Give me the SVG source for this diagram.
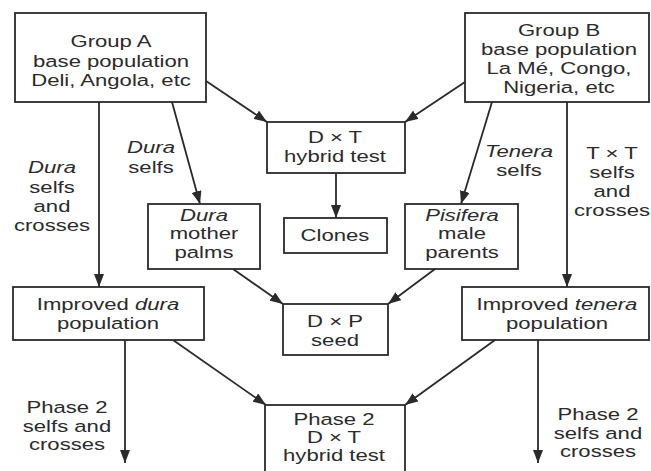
<svg xmlns="http://www.w3.org/2000/svg" width="651" height="471" viewBox="0 0 651 471">
  <style>
    .box { fill: #ffffff; stroke: #2a2a2a; stroke-width: 1.8; }
    .edge { fill: none; stroke: #2a2a2a; stroke-width: 1.8; marker-end: url(#arrow); }
    text { font-family: "Liberation Sans", Arial, Helvetica, sans-serif; font-size: 17px; fill: #2b2b2b; text-anchor: middle; }
    .it { font-style: italic; }
  </style>
  <defs>
    <marker id="arrow" markerUnits="userSpaceOnUse" markerWidth="14" markerHeight="10" refX="13" refY="5" orient="auto">
      <path d="M0,0 L13,5 L0,10 z" fill="#2a2a2a"/>
    </marker>
  </defs>
  <rect width="651" height="471" fill="#ffffff"/>

  <!-- connectors -->
  <g id="connectors">
    <line class="edge" x1="99" y1="102" x2="99" y2="287"/>
    <line class="edge" x1="172" y1="102" x2="200" y2="204"/>
    <line class="edge" x1="206" y1="81" x2="267" y2="122"/>
    <line class="edge" x1="465" y1="82" x2="405" y2="122"/>
    <line class="edge" x1="492" y1="102" x2="461" y2="204"/>
    <line class="edge" x1="567" y1="102" x2="567" y2="287"/>
    <line class="edge" x1="336" y1="173" x2="336" y2="218"/>
    <line class="edge" x1="233" y1="269" x2="283" y2="304"/>
    <line class="edge" x1="435" y1="269" x2="388" y2="304"/>
    <line class="edge" x1="125" y1="340" x2="125" y2="463"/>
    <line class="edge" x1="173" y1="340" x2="266" y2="405"/>
    <line class="edge" x1="538" y1="340" x2="538" y2="463"/>
    <line class="edge" x1="495" y1="340" x2="405" y2="405"/>
  </g>

  <!-- edge labels -->
  <g id="labels">
    <text transform="translate(52,0) scale(1.3,1)"><tspan class="it" x="0" y="173">Dura</tspan><tspan x="0" y="193">selfs</tspan><tspan x="0" y="212">and</tspan><tspan x="0" y="231">crosses</tspan></text>
    <text transform="translate(151,0) scale(1.3,1)"><tspan class="it" x="0" y="153">Dura</tspan><tspan x="0" y="173">selfs</tspan></text>
    <text transform="translate(519,0) scale(1.3,1)"><tspan class="it" x="0" y="157">Tenera</tspan><tspan x="0" y="176">selfs</tspan></text>
    <text transform="translate(612,0) scale(1.3,1)"><tspan x="0" y="159">T × T</tspan><tspan x="0" y="178">selfs</tspan><tspan x="0" y="197">and</tspan><tspan x="0" y="216">crosses</tspan></text>
    <text transform="translate(67,0) scale(1.3,1)"><tspan x="0" y="413">Phase 2</tspan><tspan x="0" y="432">selfs and</tspan><tspan x="0" y="450">crosses</tspan></text>
    <text transform="translate(598,0) scale(1.3,1)"><tspan x="0" y="420">Phase 2</tspan><tspan x="0" y="439">selfs and</tspan><tspan x="0" y="457">crosses</tspan></text>
  </g>

  <g id="group-a">
    <rect class="box" x="15" y="13" width="191" height="89"/>
    <text transform="translate(111,0) scale(1.3,1)"><tspan x="0" y="47">Group A</tspan><tspan x="0" y="67">base population</tspan><tspan x="0" y="86">Deli, Angola, etc</tspan></text>
  </g>

  <g id="group-b">
    <rect class="box" x="465" y="13" width="184" height="89"/>
    <text transform="translate(559,0) scale(1.3,1)"><tspan x="0" y="36">Group B</tspan><tspan x="0" y="55">base population</tspan><tspan x="0" y="74">La Mé, Congo,</tspan><tspan x="0" y="93">Nigeria, etc</tspan></text>
  </g>

  <g id="dxt-test">
    <rect class="box" x="267" y="122" width="138" height="51"/>
    <text transform="translate(335,0) scale(1.3,1)"><tspan x="0" y="143">D × T</tspan><tspan x="0" y="162">hybrid test</tspan></text>
  </g>

  <g id="dura-mothers">
    <rect class="box" x="148" y="204" width="112" height="65"/>
    <text transform="translate(204,0) scale(1.3,1)"><tspan class="it" x="0" y="221">Dura</tspan><tspan x="0" y="239">mother</tspan><tspan x="0" y="258">palms</tspan></text>
  </g>

  <g id="clones">
    <rect class="box" x="284" y="218" width="103" height="35"/>
    <text transform="translate(335,0) scale(1.3,1)" x="0" y="241">Clones</text>
  </g>

  <g id="pisifera-males">
    <rect class="box" x="405" y="204" width="113" height="65"/>
    <text transform="translate(462,0) scale(1.3,1)"><tspan class="it" x="0" y="221">Pisifera</tspan><tspan x="0" y="239">male</tspan><tspan x="0" y="258">parents</tspan></text>
  </g>

  <g id="dxp-seed">
    <rect class="box" x="283" y="304" width="105" height="51"/>
    <text transform="translate(335,0) scale(1.3,1)"><tspan x="0" y="327">D × P</tspan><tspan x="0" y="346">seed</tspan></text>
  </g>

  <g id="improved-dura">
    <rect class="box" x="13" y="287" width="191" height="53"/>
    <text transform="translate(108,0) scale(1.3,1)"><tspan x="0" y="310">Improved <tspan class="it">dura</tspan></tspan><tspan x="0" y="329">population</tspan></text>
  </g>

  <g id="improved-tenera">
    <rect class="box" x="462" y="287" width="187" height="53"/>
    <text transform="translate(557,0) scale(1.3,1)"><tspan x="0" y="310">Improved <tspan class="it">tenera</tspan></tspan><tspan x="0" y="329">population</tspan></text>
  </g>

  <g id="phase2-dxt">
    <rect class="box" x="265" y="405" width="140" height="80"/>
    <text transform="translate(334,0) scale(1.3,1)"><tspan x="0" y="425">Phase 2</tspan><tspan x="0" y="443">D × T</tspan><tspan x="0" y="461">hybrid test</tspan></text>
  </g>
</svg>
